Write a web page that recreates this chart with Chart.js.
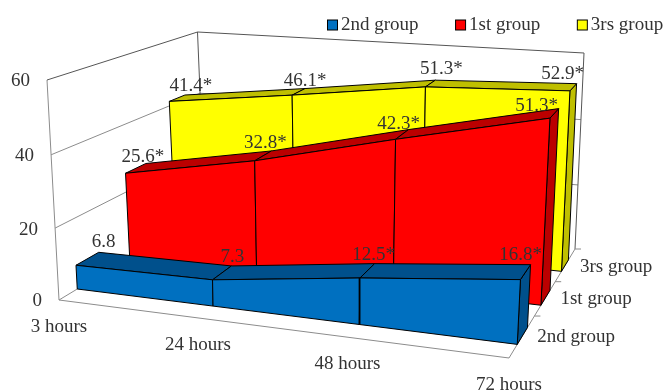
<!DOCTYPE html>
<html>
<head>
<meta charset="utf-8">
<title>3D area chart</title>
<script src="https://cdn.jsdelivr.net/npm/chart.js@4"></script>
<style>
  html, body { margin: 0; padding: 0; background: #fff; }
  #wrap { width: 665px; height: 392px; }
</style>
</head>
<body>
<div id="wrap"><canvas id="chart" width="665" height="392"></canvas></div>
<script>
// chart values, front row first
const categories = ['3 hours', '24 hours', '48 hours', '72 hours'];
const seriesNames = ['2nd group', '1st group', '3rs group'];
const secondGroup = [6.8, 7.3, 12.5, 16.8];
const firstGroup = [25.6, 32.8, 42.3, 51.3];
const thirdGroup = [41.4, 46.1, 51.3, 52.9];
const secondStars = [false, false, true, true];
const firstStars = [true, true, true, true];
const thirdStars = [true, true, true, true];
const valueTicks = [0, 20, 40, 60];
const legendOrder = [0, 1, 2];

const rows = [secondGroup, firstGroup, thirdGroup];
const rowStars = [secondStars, firstStars, thirdStars];

// colours of each row: front, top/side
const rowColors = [['#0070C0', '#00508C'], ['#FF0000', '#BB0000'], ['#FFFF00', '#BFBF00']];
// depth of the slabs in the box, 0 = front, 1 = back
const rowDepths = [[0.125, 0.28], [0.484, 0.621], [0.795, 0.90]];
const floorTickDepths = [0.385, 0.70, 1];
// nudges of the value labels from the slab's rear top corner
const labelNudges = [
    [[5, -10], [1, -9], [-1, -9], [-10, -10]],
    [[-3, -6], [-6, -8], [-10, -6], [-22, -3]],
    [[6, -9], [0, -8], [6, -11], [-14, -10]]
];

// the box as seen by the camera, in canvas units
const box = {
    b00: [59, 300], b10: [509, 358], b01: [205, 212], b11: [575, 249],
    t00: [47, 80], t10: [521, 116], t01: [197.5, 32], t11: [584, 53]
};
const maxValue = valueTicks[valueTicks.length - 1];

function warp(t, r) {
    return t / (t + r * (1 - t));
}

function mix(a, b, t) {
    return [a[0] + (b[0] - a[0]) * t, a[1] + (b[1] - a[1]) * t];
}

// category position (0..last), depth (0..1), value -> plot point
function project(cat, depth, value) {
    const s = warp(cat / (categories.length - 1), 1.12);
    const v = warp(value / maxValue, 1.03);
    const bottom = mix(mix(box.b00, box.b10, s), mix(box.b01, box.b11, s), depth);
    const top = mix(mix(box.t00, box.t10, s), mix(box.t01, box.t11, s), depth);
    const p = mix(bottom, top, v);
    return { x: p[0], y: p[1] };
}

function shape(points, color, edge) {
    return {
        data: points.concat([points[0]]),
        showLine: true,
        fill: 'shape',
        backgroundColor: color,
        borderColor: edge,
        borderWidth: 1,
        borderJoinStyle: 'miter',
        pointRadius: 0,
        tension: 0
    };
}

function rule(points, color) {
    return {
        data: points,
        showLine: true,
        fill: false,
        borderColor: color,
        borderWidth: 1,
        pointRadius: 0,
        tension: 0
    };
}

const datasets = [];
const last = categories.length - 1;
const wallGrey = '#8c8c8c';
const edgeGrey = '#555555';

// walls and floor
valueTicks.slice(1, -1).forEach(v => {
    datasets.push(rule([project(0, 0, v), project(0, 1, v), project(last, 1, v)], wallGrey));
});
datasets.push(rule([project(0, 1, 0), project(0, 0, 0), project(last, 0, 0), project(last, 1, 0)], wallGrey));
datasets.push(rule([project(0, 0, 0), project(0, 0, maxValue)], wallGrey));
datasets.push(rule([project(0, 0, maxValue), project(0, 1, maxValue), project(last, 1, maxValue)], edgeGrey));
datasets.push(rule([project(0, 1, maxValue), project(0, 1, 0)], edgeGrey));
datasets.push(rule([project(last, 1, maxValue), project(last, 1, 0)], edgeGrey));
floorTickDepths.forEach(d => {
    const p = project(last, d, 0);
    datasets.push(rule([p, { x: p.x + 6, y: p.y }], wallGrey));
});

// slabs, back row first so the front row lands on top
for (let r = rows.length - 1; r >= 0; r--) {
    const values = rows[r];
    const [front, shade] = rowColors[r];
    const [d0, d1] = rowDepths[r];
    datasets.push(shape([
        project(last, d0, 0), project(last, d1, 0),
        project(last, d1, values[last]), project(last, d0, values[last])
    ], shade, '#000'));
    for (let i = 0; i < last; i++) {
        datasets.push(shape([
            project(i, d0, values[i]), project(i, d1, values[i]),
            project(i + 1, d1, values[i + 1]), project(i + 1, d0, values[i + 1])
        ], shade, '#000'));
    }
    for (let i = 0; i < last; i++) {
        datasets.push(shape([
            project(i, d0, 0), project(i, d0, values[i]),
            project(i + 1, d0, values[i + 1]), project(i + 1, d0, 0)
        ], front, '#000'));
    }
}

// later datasets paint over earlier ones
datasets.forEach((d, i) => { d.order = -i; d.clip = false; });

const textColor = '#333333';
const textFont = '19px "Liberation Serif"';

const textPlugin = {
    id: 'textPlugin',
    afterDatasetsDraw(chart) {
        const { ctx, scales } = chart;
        const px = p => [scales.x.getPixelForValue(p.x), scales.y.getPixelForValue(p.y)];
        const put = (text, p, dx, dy, align) => {
            const [x, y] = px(p);
            ctx.textAlign = align;
            ctx.fillText(text, x + dx, y + dy);
        };
        ctx.save();
        ctx.font = textFont;
        ctx.fillStyle = textColor;
        ctx.textBaseline = 'middle';

        valueTicks.forEach(v => put(String(v), project(0, 0, v), -17, 1.5, 'right'));
        categories.forEach((c, i) => put(c, project(i, 0, 0), 0, 27, 'center'));
        seriesNames.forEach((name, r) => {
            const depth = (rowDepths[r][0] + rowDepths[r][1]) / 2;
            put(name, project(last, depth, 0), 15, 1, 'left');
        });

        // value labels
        rows.forEach((values, r) => {
            values.forEach((v, i) => {
                const [dx, dy] = labelNudges[r][i];
                const text = v.toFixed(1) + (rowStars[r][i] ? '*' : '');
                put(text, project(i, rowDepths[r][1], v), dx, dy, 'center');
            });
        });

        // legend
        let lx = scales.x.getPixelForValue(327);
        const ly = scales.y.getPixelForValue(25.5);
        legendOrder.forEach(r => {
            ctx.fillStyle = rowColors[r][0];
            ctx.strokeStyle = '#000';
            ctx.lineWidth = 1;
            ctx.fillRect(lx + 0.5, ly - 5.5, 10, 10);
            ctx.strokeRect(lx + 0.5, ly - 5.5, 10, 10);
            ctx.fillStyle = textColor;
            ctx.textAlign = 'left';
            ctx.fillText(seriesNames[r], lx + 14, ly);
            lx += 14 + ctx.measureText(seriesNames[r]).width + 36.5;
        });
        ctx.restore();
    }
};

new Chart(document.getElementById('chart').getContext('2d'), {
    type: 'scatter',
    data: { datasets: datasets },
    options: {
        responsive: false,
        animation: false,
        layout: { padding: 0 },
        scales: {
            x: { type: 'linear', display: false, min: 0, max: 665 },
            y: { type: 'linear', display: false, min: 0, max: 392, reverse: true }
        },
        plugins: {
            legend: { display: false },
            tooltip: { enabled: false }
        }
    },
    plugins: [textPlugin]
});
</script>
</body>
</html>
